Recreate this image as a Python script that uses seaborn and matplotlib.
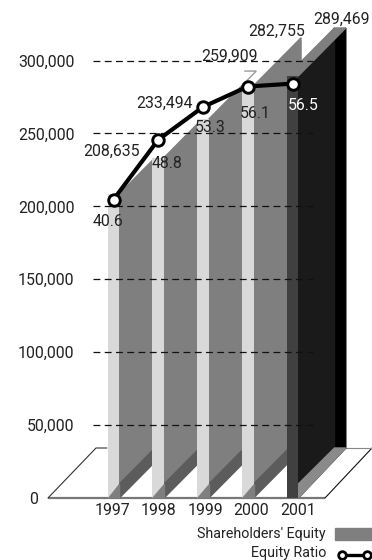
import numpy as np
import pandas as pd
import seaborn as sns
import matplotlib.pyplot as plt

years = ["1997", "1998", "1999", "2000", "2001"]
equity = [208635, 233494, 259909, 282755, 289469]
ratio = [40.6, 48.8, 53.3, 56.1, 56.5]
y_ticks = [0, 50000, 100000, 150000, 200000, 250000, 300000]

PX_W, PX_H = 372, 560
sns.set_theme(style="white")
plt.rcParams["font.family"] = ["Roboto", "DejaVu Sans"]
TEXT = "#222222"
LABEL_SIZE = 11.4

fig = plt.figure(figsize=(PX_W / 100, PX_H / 100), dpi=100)
fig.patch.set_facecolor("white")
# the axes run from the value axis to the right edge and from the floor's front edge to the top
left_px, floor_px = 80, 498
ax = fig.add_axes([left_px / PX_W, 1 - floor_px / PX_H, (PX_W - left_px) / PX_W, floor_px / PX_H])
ax.patch.set_alpha(0)

px_per_unit = 0.001458
step_px, first_px = 44.75, 113.5


def X(px):
    return (px - first_px) / step_px


def Y(px_height):
    return px_height / px_per_unit


# oblique depth of the extruded bars
dx = 47.5 / step_px
dy = Y(48)
half = 5.8 / step_px
foot = Y(14)
slab = 11.3 / step_px
floor_depth = Y(50)

# front faces of the bars
frame = pd.DataFrame({"x": np.arange(5), "equity": equity, "face": ["l", "l", "l", "l", "d"]})
sns.barplot(data=frame, x="x", y="equity", hue="face", palette={"l": "#d9d9d9", "d": "#404040"}, dodge=False,
            width=2 * half, native_scale=True, legend=False, ax=ax, saturation=1, linewidth=0, edgecolor="none")
for container in ax.containers:
    for bar in container:
        bar.set_zorder(2.5 + bar.get_x() + half)
ax.set_xlim(X(left_px), X(PX_W))
ax.set_ylim(0, Y(floor_px))

# floor outline
ax.plot([X(48), X(325)], [0, 0], color="#777777", lw=1.6, clip_on=False, zorder=1.5, solid_capstyle="butt")
ax.plot([X(48), X(96), X(107)], [0, floor_depth, floor_depth], color="#333333", lw=0.8, clip_on=False, zorder=1.5)
ax.plot([X(325), X(372)], [0, floor_depth], color="#111111", lw=0.8, clip_on=False, zorder=1.5)
ax.plot([X(345), X(372)], [floor_depth, floor_depth], color="#888888", lw=0.8, clip_on=False, zorder=1.5)

# extruded sides and tops, oldest bar first so that later bars overlap
for i, v in enumerate(equity):
    base = 2 + i
    xl, xr = i - half, i + half
    if i == 4:
        ax.fill([xr, xr + dx, xr + dx, xr], [0, floor_depth, v + dy, v], color="#000000", zorder=base)
        ax.fill([xr, xr + dx - slab, xr + dx - slab, xr], [foot, floor_depth, v + dy, v],
                color="#1a1a1a", zorder=base + 0.1)
        ax.fill([xr, xr + dx, xr + dx - slab, xr], [0, floor_depth, floor_depth, foot],
                color="#8a8a8a", zorder=base + 0.1)
        ax.fill([xl, xr, xr + dx, xr + dx - slab], [v, v, v + dy, v + dy], color="#7f7f7f", zorder=base + 0.2)
    else:
        # a side stops at the next bar's front face, except the one that rises behind the dark bar
        reach = dx if i == 3 else (i + 1 - half - xr)
        frac = reach / dx
        ax.fill([xr, xr + reach, xr + reach, xr], [foot, foot + dy * frac, v + dy * frac, v],
                color="#7f7f7f", zorder=base)
        ax.fill([xr, xr + reach, xr + reach, xr], [0, dy * frac, foot + dy * frac, foot],
                color="#5c5c5c", zorder=base)
        ax.fill([xl, xr, xr], [0, 0, foot], color="#7f7f7f", zorder=base + 1)
        if i == 2:
            ax.plot([xr + reach, xr + dx, xl + dx], [v + dy * frac, v + dy, v + dy], color="#999999", lw=1,
                    zorder=base + 2, solid_joinstyle="miter")

# dashed gridlines
for t in y_ticks[1:]:
    ax.plot([X(93), X(313)], [t, t], color="#111111", lw=0.9, dashes=(5.5, 3.5), zorder=20)

# equity ratio on its own scale, sharing the full height of the plot
twin = ax.twinx()
twin.set_ylim(-2.5 / 7.29, (floor_px - 2.5) / 7.29)
twin.set_axis_off()
twin.set_zorder(30)
sns.lineplot(x=np.arange(5), y=ratio, ax=twin, color="black", lw=3, marker="o", ms=8.3, mfc="white",
             mec="black", mew=2.1, legend=False, errorbar=None)
twin.set_xlim(ax.get_xlim())

# value labels
equity_px = [(111, 151), (164, 103), (229, 56), (277, 31), (342, 19)]
for s, (px, py) in zip(equity, equity_px):
    twin.text(X(px), (floor_px - 2.5 - py) / 7.29, f"{s:,}", color=TEXT, fontsize=LABEL_SIZE,
              ha="center", va="center", clip_on=False)
ratio_colors = [TEXT, TEXT, TEXT, TEXT, "white"]
ratio_px = [(108, 222), (167, 163), (210, 127), (255, 113), (303, 106)]
for r, c, (px, py) in zip(ratio, ratio_colors, ratio_px):
    twin.text(X(px), (floor_px - 2.5 - py) / 7.29, f"{r}", color=c, fontsize=LABEL_SIZE,
              ha="center", va="center", clip_on=False)

# axes
ax.set_xlabel("")
ax.set_ylabel("")
ax.set_yticks(y_ticks, [f"{t:,}" for t in y_ticks])
ax.tick_params(axis="y", length=0, pad=4, labelsize=LABEL_SIZE, labelcolor=TEXT)
ax.yaxis.get_major_ticks()[0].set_pad(30)
ax.set_xticks([-0.03, 1.01, 2.06, 3.08, 4.12], years)
ax.tick_params(axis="x", length=0, pad=3.5, labelsize=LABEL_SIZE, labelcolor=TEXT)
sns.despine(ax=ax, left=True, bottom=True, top=True, right=True)


# legend entries
def fig_xy(px, py):
    return (px / PX_W, 1 - py / PX_H)


fig.text(*fig_xy(326, 534), "Shareholders' Equity", ha="right", va="center", fontsize=10.3, color=TEXT)
fig.text(*fig_xy(326, 553), "Equity Ratio", ha="right", va="center", fontsize=10.3, color=TEXT)
fig.add_artist(plt.Rectangle(fig_xy(335, 540), 37 / PX_W, 12 / PX_H, transform=fig.transFigure, color="#7f7f7f"))
fig.add_artist(plt.Line2D([342 / PX_W, 367 / PX_W], [1 - 555 / PX_H] * 2, color="black", lw=2.4, marker="o", ms=5.5,
                          mfc="white", mec="black", mew=2))

fig.savefig("out.png", dpi=100)
